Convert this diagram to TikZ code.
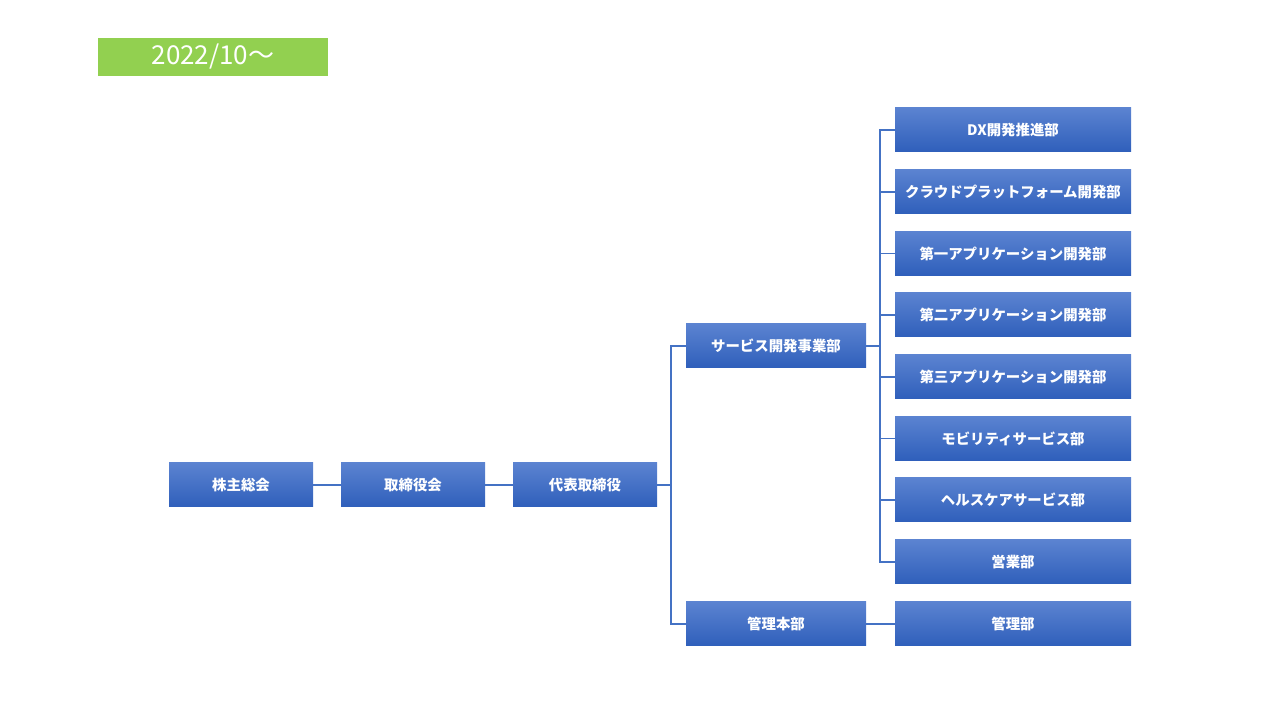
\documentclass[tikz,border=0pt]{standalone}
\usepackage{fontspec}
\setmainfont{Noto Sans CJK JP}
\usetikzlibrary{positioning}

\definecolor{orgtop}{HTML}{5B83D1}
\definecolor{orgbot}{HTML}{2F5FBB}
\definecolor{orgline}{HTML}{4472C4}
\definecolor{badgegreen}{HTML}{92D050}

\begin{document}
\begin{tikzpicture}[
		orgbox/.style={top color=orgtop, bottom color=orgbot, text=white, inner sep=0pt, outer sep=0pt,
			minimum height=0.44cm, font=\fontsize{4.1}{5}\selectfont\bfseries},
		smallbox/.style={orgbox, minimum width=1.44cm},
		midbox/.style={orgbox, minimum width=1.80cm},
		widebox/.style={orgbox, minimum width=2.36cm},
		orgline/.style={draw=orgline, line width=0.4pt}
	]
		\useasboundingbox (0,0) rectangle (12.8,7.2);

		\node[fill=badgegreen, text=white, minimum width=2.30cm, minimum height=0.38cm, inner sep=0pt,
			font=\fontsize{7.4}{8}\selectfont] (badge) at (2.13,6.63) {2022/10～};

		\node[smallbox] (kabunushi) at (2.41,2.35) {株主総会};
		\node[smallbox] (torishimari) at (4.13,2.35) {取締役会};
		\node[smallbox] (daihyo) at (5.85,2.35) {代表取締役};

		\node[midbox] (service) at (7.76,3.74) {サービス開発事業部};
		\node[midbox] (kanrihonbu) at (7.76,0.96) {管理本部};

		\node[widebox] (dx) at (10.13,5.90) {DX開発推進部};
		\node[widebox] (cloud) at (10.13,5.28) {クラウドプラットフォーム開発部};
		\node[widebox] (app1) at (10.13,4.665) {第一アプリケーション開発部};
		\node[widebox] (app2) at (10.13,4.05) {第二アプリケーション開発部};
		\node[widebox] (app3) at (10.13,3.43) {第三アプリケーション開発部};
		\node[widebox] (mobility) at (10.13,2.815) {モビリティサービス部};
		\node[widebox] (health) at (10.13,2.20) {ヘルスケアサービス部};
		\node[widebox] (eigyo) at (10.13,1.58) {営業部};
		\node[widebox] (kanri) at (10.13,0.96) {管理部};

		\draw[orgline] (kabunushi) -- (torishimari);
		\draw[orgline] (torishimari) -- (daihyo);
		\draw[orgline] (daihyo.east) -- ++(0.14,0) |- (service.west);
		\draw[orgline] (daihyo.east) -- ++(0.14,0) |- (kanrihonbu.west);
		\foreach \dept in {dx,cloud,app1,app2,app3,mobility,health,eigyo}
			\draw[orgline] (service.east) -- ++(0.14,0) |- (\dept.west);
		\draw[orgline] (kanrihonbu) -- (kanri);

	\end{tikzpicture}
\end{document}
